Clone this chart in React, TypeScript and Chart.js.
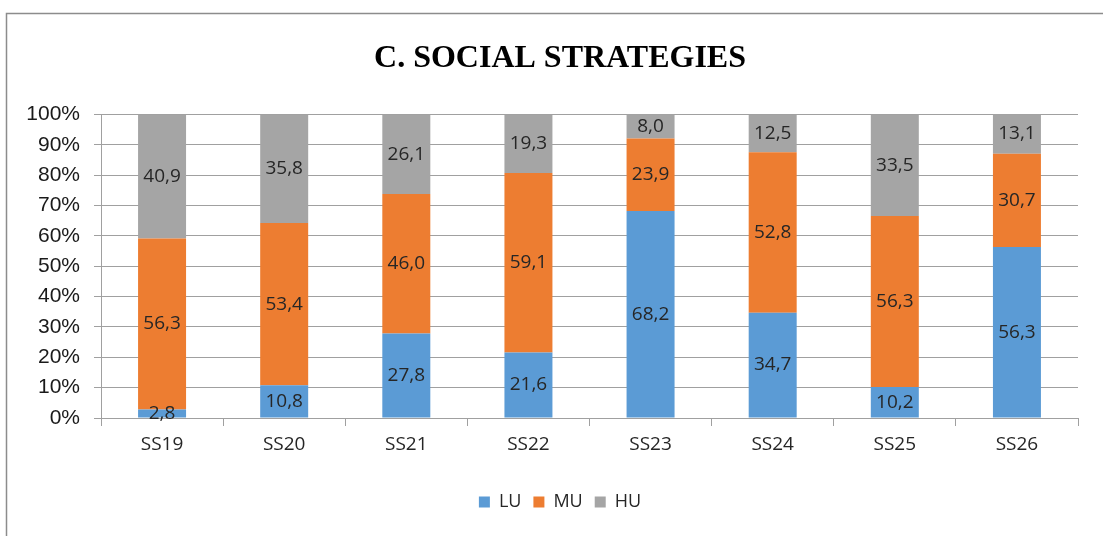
import React, { useEffect, useRef } from "react";
import { Chart, registerables } from "chart.js";

Chart.register(...registerables);

const categories = ["SS19", "SS20", "SS21", "SS22", "SS23", "SS24", "SS25", "SS26"];
const luValues = [2.8, 10.8, 27.8, 21.6, 68.2, 34.7, 10.2, 56.3];
const muValues = [56.3, 53.4, 46.0, 59.1, 23.9, 52.8, 56.3, 30.7];
const huValues = [40.9, 35.8, 26.1, 19.3, 8.0, 12.5, 33.5, 13.1];
const seriesNames = ["LU", "MU", "HU"];
const seriesColors = ["#5b9bd5", "#ed7d31", "#a5a5a5"];
const yTicks = [0, 10, 20, 30, 40, 50, 60, 70, 80, 90, 100];
const titleText = "C. SOCIAL STRATEGIES";

const GRID = "#a0a0a0";

const framePlugin = {
  id: "frame",
  beforeDraw(chart: any) {
    const ctx = chart.ctx;
    ctx.save();
    ctx.fillStyle = "#ffffff";
    ctx.fillRect(0, 0, chart.width, chart.height);
    ctx.strokeStyle = "#8c8c8c";
    ctx.lineWidth = 1.5;
    ctx.strokeRect(6.5, 13.5, chart.width + 50, chart.height + 50);
    ctx.restore();
  },
};

const labelPlugin = {
  id: "segLabels",
  afterDatasetsDraw(chart: any) {
    const ctx = chart.ctx;
    ctx.save();
    ctx.font = "19px 'Open Sans'";
    ctx.fillStyle = "#262626";
    ctx.textAlign = "center";
    ctx.textBaseline = "middle";
    chart.data.datasets.forEach((ds: any, di: number) => {
      const meta = chart.getDatasetMeta(di);
      meta.data.forEach((bar: any, i: number) => {
        const v = ds.data[i] as number;
        const p = bar.getCenterPoint();
        ctx.fillText(v.toFixed(1).replace(".", ","), p.x, p.y);
      });
    });
    ctx.restore();
  },
};

export default function App() {
  const ref = useRef<HTMLCanvasElement | null>(null);
  useEffect(() => {
    if (!ref.current) return;
    const seriesData = [luValues, muValues, huValues];
    const chart = new Chart(ref.current, {
      type: "bar",
      data: {
        labels: categories,
        datasets: seriesNames.map((n, k) => ({
          label: n,
          data: seriesData[k],
          backgroundColor: seriesColors[k],
          borderWidth: 0,
          categoryPercentage: 1,
          barPercentage: 0.393,
        })),
      },
      options: {
        responsive: false,
        animation: false,
        layout: { padding: { left: 42, right: 25, top: 0, bottom: 15 } },
        plugins: {
          title: {
            display: true,
            text: titleText,
            color: "#000000",
            font: { family: "'Liberation Serif'", size: 32, weight: "bold" },
            padding: { top: 40, bottom: 36 },
          },
          legend: {
            position: "bottom",
            labels: {
              boxWidth: 11,
              boxHeight: 11,
              color: "#262626",
              font: { family: "'Open Sans'", size: 18 },
              padding: 12,
            },
          },
          tooltip: { enabled: false },
        },
        scales: {
          x: {
            stacked: true,
            grid: {
              display: true,
              offset: true,
              drawOnChartArea: false,
              drawTicks: true,
              tickLength: 8,
              color: GRID,
            },
            border: { display: true, color: GRID, width: 1 },
            ticks: {
              color: "#262626",
              font: { family: "'Open Sans'", size: 19 },
              padding: 7,
            },
            afterFit(scale: any) {
              scale.height = 63;
            },
          },
          y: {
            stacked: true,
            min: 0,
            max: 100,
            afterBuildTicks(scale: any) {
              scale.ticks = yTicks.map((v) => ({ value: v }));
            },
            grid: {
              color: GRID,
              tickLength: 7,
              drawTicks: true,
            },
            border: { display: true, color: GRID, width: 1 },
            ticks: {
              color: "#1a1a1a",
              font: { family: "'Liberation Sans'", size: 21 },
              padding: 14,
              callback: (v: any) => v + "%",
            },
            afterFit(scale: any) {
              scale.width = 59;
              scale._computeLabelArea = () => undefined;
            },
          },
        },
      },
      plugins: [framePlugin, labelPlugin],
    } as any);
    return () => chart.destroy();
  }, []);
  return (
    <div style={{ position: "fixed", left: 0, top: 0, width: 1103, height: 536 }}>
      <canvas ref={ref} width={1103} height={536} style={{ display: "block" }} />
    </div>
  );
}
